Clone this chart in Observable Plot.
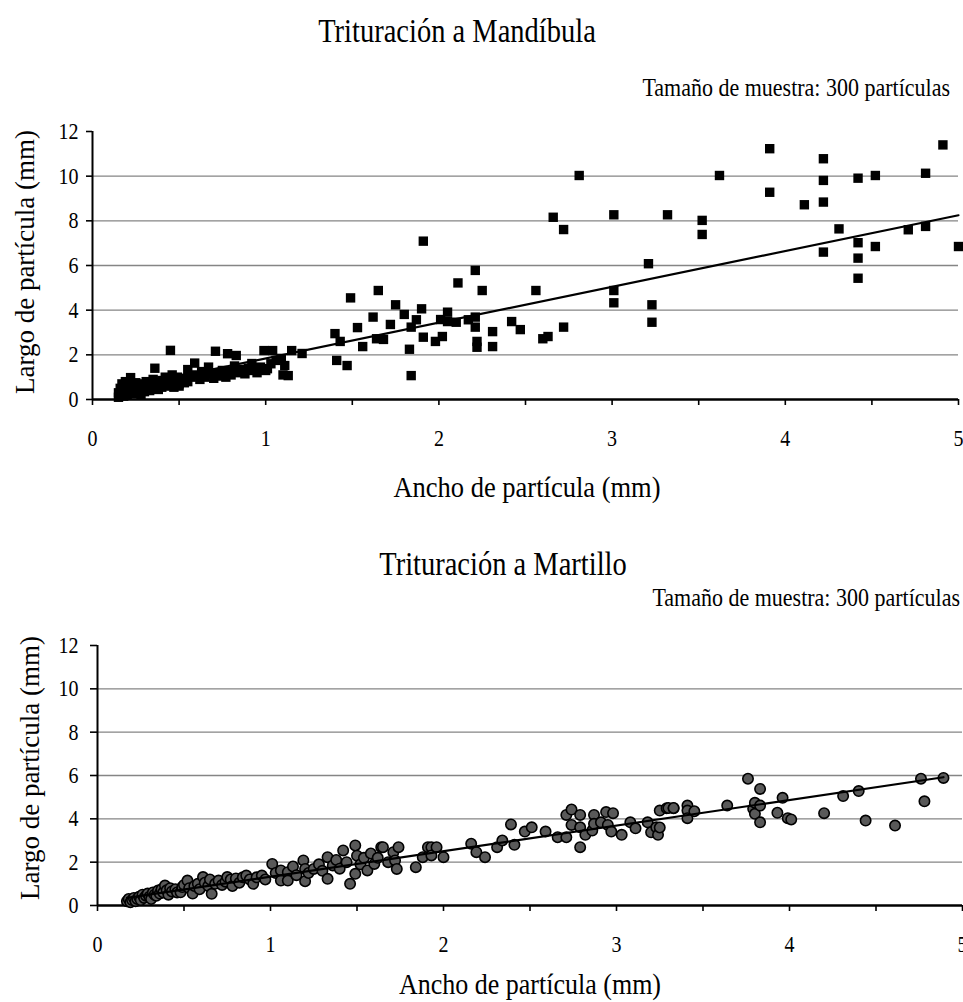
<!DOCTYPE html>
<html><head><meta charset="utf-8">
<script src="https://cdn.jsdelivr.net/npm/d3@7"></script>
<script src="https://cdn.jsdelivr.net/npm/@observablehq/plot@0.6"></script>
<style>
html,body{margin:0;padding:0;background:#fff;}
#page{position:relative;width:963px;height:1002px;overflow:hidden;font-family:"Liberation Serif","Times New Roman",serif;color:#000;}
#page svg text{font-family:"Liberation Serif","Times New Roman",serif !important;font-size:20px;}
.t{position:absolute;white-space:nowrap;line-height:1;transform-origin:center center;font-family:"Liberation Serif","Times New Roman",serif;}
.chart{position:absolute;left:0;}
</style></head><body><div id="page">
<div class="t" style="left:457px;top:18px;font-size:28.5px;transform:translateX(-50%) scaleY(1.15);">Trituración a Mandíbula</div>
<div class="t" style="right:13px;top:76.5px;font-size:22px;transform:scaleY(1.15);">Tamaño de muestra: 300 partículas</div>
<div class="t" style="left:527px;top:473.5px;font-size:26.5px;transform:translateX(-50%) scaleY(1.15);">Ancho de partícula (mm)</div>
<div class="t" style="left:25px;top:262px;font-size:27px;transform:translate(-50%,-50%) rotate(-90deg);">Largo de partícula (mm)</div>
<div class="t" style="left:503px;top:551px;font-size:28.5px;transform:translateX(-50%) scaleY(1.15);">Trituración a Martillo</div>
<div class="t" style="right:3px;top:586.5px;font-size:22px;transform:scaleY(1.15);">Tamaño de muestra: 300 partículas</div>
<div class="t" style="left:530px;top:972px;font-size:26px;transform:translateX(-50%) scaleY(1.12);">Ancho de partícula (mm)</div>
<div class="t" style="left:30px;top:768px;font-size:27px;transform:translate(-50%,-50%) rotate(-90deg);">Largo de partícula (mm)</div>
<div class="chart" id="c1" style="top:110px"></div>
<div class="chart" id="c2" style="top:620px"></div>
</div>
<script>
// ---- Data ----
const xTicks = [0, 0.5, 1, 1.5, 2, 2.5, 3, 3.5, 4, 4.5, 5];
const xTickLabels = ["0", "", "1", "", "2", "", "3", "", "4", "", "5"];
const yTicks = [0, 2, 4, 6, 8, 10, 12];
const gridValues = [2, 4, 6, 8, 10];

// Trituración a Mandíbula: ancho (x) / largo (y)
const mandWidth = [
  0.15,0.15,0.16,0.16,0.17,0.17,0.18,0.18,0.19,0.19,0.2,0.2,0.21,0.21,0.22,0.22,0.23,0.24,0.25,0.25,
  0.26,0.27,0.28,0.28,0.29,0.3,0.3,0.31,0.32,0.33,0.34,0.35,0.35,0.36,0.37,0.38,0.38,0.4,0.4,0.41,
  0.42,0.43,0.44,0.45,0.45,0.46,0.47,0.48,0.49,0.5,0.5,0.52,0.53,0.55,0.55,0.57,0.59,0.6,0.62,0.63,
  0.65,0.67,0.68,0.7,0.71,0.72,0.74,0.75,0.77,0.78,0.79,0.8,0.82,0.83,0.84,0.86,0.88,0.9,0.92,0.93,
  0.95,0.97,0.99,1.0,1.01,1.03,1.04,1.06,1.09,1.11,1.13,1.15,1.1,1.21,
  1.40,1.41,1.43,1.47,1.49,1.53,1.56,1.62,1.64,1.65,1.68,1.72,1.75,1.80,1.83,1.84,1.84,1.87,1.90,1.91,
  1.91,1.98,2.01,2.02,2.05,2.05,2.10,2.11,2.17,2.21,2.21,2.21,2.22,2.22,2.25,2.31,2.31,2.42,2.47,2.56,
  2.60,2.63,2.66,2.72,2.72,2.81,3.01,3.01,3.01,3.21,3.23,3.23,3.32,3.52,3.52,3.62,3.91,3.91,4.11,4.22,
  4.22,4.22,4.22,4.31,4.42,4.42,4.42,4.42,4.52,4.52,4.71,4.81,4.81,4.91,5.0
];
const mandLength = [
  0.1,0.3,0.5,0.2,0.7,0.4,0.15,0.6,0.3,0.8,0.5,0.2,0.35,0.65,0.98,0.45,0.25,0.55,0.4,0.75,
  0.3,0.6,0.45,0.2,0.7,0.5,0.35,0.8,0.55,0.4,0.65,0.9,0.5,1.4,0.6,0.75,0.45,0.85,0.55,0.7,
  1.0,0.6,0.9,2.2,0.75,1.1,0.55,0.85,1.0,0.7,0.6,0.95,0.75,1.34,0.8,1.0,1.63,1.1,0.9,1.25,
  1.0,1.45,1.15,0.95,2.16,1.2,1.05,1.3,1.0,2.05,1.25,1.1,1.5,1.97,1.2,1.35,1.15,1.4,1.61,1.3,
  1.2,1.45,2.19,1.3,1.38,1.6,2.19,1.75,1.84,1.52,1.07,2.19,1.1,2.06,
  2.95,1.75,2.6,1.52,4.55,3.22,2.37,3.69,2.72,4.88,2.69,3.36,4.24,3.81,2.25,3.24,1.07,3.57,4.06,7.09,
  2.79,2.6,3.58,2.82,3.91,3.49,3.46,5.22,3.57,5.78,3.69,3.24,2.6,2.34,4.88,3.04,2.37,3.49,3.13,4.88,
  2.72,2.82,8.16,7.61,3.24,10.03,8.27,4.88,4.33,6.08,4.24,3.46,8.27,8.02,7.39,10.03,11.23,9.28,8.72,10.78,
  9.81,8.84,6.6,7.64,9.91,7.02,6.33,5.43,10.03,6.85,7.6,7.75,10.13,11.4,6.85
];
const mandTrendX = [0.15, 5.0];
const mandTrendY = [0.48, 8.25];

// Trituración a Martillo
const martWidth = [
  0.17,0.18,0.19,0.2,0.21,0.22,0.23,0.24,0.25,0.26,0.27,0.28,0.29,0.3,0.31,0.32,0.33,0.34,0.35,0.36,
  0.37,0.38,0.39,0.4,0.41,0.42,0.43,0.45,0.46,0.48,0.49,0.5,0.52,0.53,0.55,0.56,0.58,0.59,0.61,0.62,
  0.64,0.65,0.66,0.68,0.7,0.72,0.74,0.75,0.77,0.78,0.8,0.82,0.84,0.86,0.88,0.9,0.92,0.95,0.97,1.01,
  1.03,1.06,1.06,1.1,1.1,1.13,1.15,1.19,1.2,1.2,1.22,1.25,1.28,1.3,1.33,1.33,1.36,1.38,1.4,1.42,
  1.44,1.46,1.49,1.49,1.5,1.52,1.54,1.56,1.58,1.6,1.62,1.64,
  1.65,1.68,1.71,1.72,1.73,1.74,1.84,1.88,1.91,1.93,1.93,1.96,2.0,2.16,2.19,2.24,2.31,2.34,2.39,2.41,
  2.47,2.51,2.59,2.66,2.71,2.71,2.74,2.74,2.79,2.79,2.79,2.82,2.86,2.87,2.87,2.91,2.94,2.95,2.97,2.98,
  3.03,3.08,3.11,3.18,3.2,3.23,3.24,3.25,3.25,3.29,3.3,3.33,3.33,
  3.41,3.41,3.41,3.45,3.64,3.76,3.79,3.8,3.8,3.83,3.83,3.83,3.93,3.96,3.99,4.01,4.2,4.31,4.4,4.44,
  4.61,4.76,4.78,4.89
];
const martLength = [
  0.2,0.3,0.15,0.25,0.35,0.2,0.3,0.4,0.25,0.5,0.35,0.45,0.55,0.4,0.3,0.6,0.5,0.45,0.69,0.55,
  0.75,0.6,0.92,0.7,0.5,0.8,0.65,0.75,0.6,0.61,0.85,0.95,1.15,0.8,0.55,0.9,1.0,0.75,1.31,1.05,
  0.9,1.2,0.54,1.0,1.15,0.95,1.1,1.31,1.2,0.9,1.25,1.05,1.3,1.38,1.2,1.0,1.3,1.38,1.2,1.92,
  1.5,1.62,1.15,1.54,1.15,1.8,1.4,2.08,1.69,1.12,1.5,1.69,1.9,1.6,2.23,1.23,1.85,2.1,1.7,2.54,
  2.0,1.0,2.77,1.46,2.3,1.9,2.2,1.62,2.4,1.92,2.2,2.69,
  2.69,2.0,2.46,2.08,1.69,2.69,1.77,2.23,2.69,2.69,2.31,2.69,2.23,2.85,2.46,2.23,2.69,3.0,3.74,2.8,
  3.41,3.61,3.41,3.15,3.15,4.18,4.43,3.72,4.18,3.61,2.69,3.26,3.46,4.18,3.77,3.84,4.31,3.72,3.41,4.26,
  3.26,3.84,3.56,3.84,3.38,3.61,3.26,4.38,3.6,4.49,4.5,4.49,4.5,
  4.61,4.38,4.03,4.35,4.61,5.85,4.46,4.74,4.23,5.38,4.61,3.84,4.28,4.97,4.03,3.97,4.26,5.05,5.28,3.92,
  3.69,5.85,4.81,5.89
];
const martTrendX = [0.17, 4.89];
const martTrendY = [0.35, 5.92];

// ---- Build ----
const mand = mandWidth.map((w, i) => ({w, l: mandLength[i]}));
const mart = martWidth.map((w, i) => ({w, l: martLength[i]}));
const mandTrend = mandTrendX.map((w, i) => ({w, l: mandTrendY[i]}));
const martTrend = martTrendX.map((w, i) => ({w, l: martTrendY[i]}));
const xLabel = new Map(xTicks.map((t, i) => [t, xTickLabels[i]]));
const FONT = '"Liberation Serif", "Times New Roman", serif';

function stretch(svg, k) {
  svg.querySelectorAll("text").forEach(t => {
    const b = t.getBBox();
    const cy = b.y + b.height / 2;
    const tr = t.getAttribute("transform") || "";
    t.setAttribute("transform", `${tr} translate(0,${cy}) scale(1,${k}) translate(0,${-cy})`);
  });
}

function chart({data, trend, height, mt, mb, ml, mr, ytSize, ytPad, square}) {
  return Plot.plot({
    width: 963, height,
    marginTop: mt, marginBottom: mb, marginLeft: ml, marginRight: mr,
    x: {domain: [0, 5]},
    y: {domain: [0, 12]},
    style: {fontFamily: FONT, fontSize: "20px", color: "#000", background: "transparent", overflow: "visible"},
    marks: [
      Plot.ruleY(gridValues, {stroke: "#858585", strokeWidth: 1.4}),
      Plot.axisY(yTicks, {tickSize: ytSize, tickPadding: ytPad, label: null, strokeWidth: 1.6, fontFamily: FONT, fontSize: 20}),
      Plot.axisX(xTicks, {tickSize: 6, tickPadding: 25, label: null, strokeWidth: 1.6, fontFamily: FONT, fontSize: 20, tickFormat: d => xLabel.get(d)}),
      Plot.ruleX([0], {y1: 0, y2: 12, stroke: "#000", strokeWidth: 2}),
      Plot.ruleY([0], {stroke: "#000", strokeWidth: 2.4}),
      square
        ? Plot.dot(data, {x: "w", y: "l", symbol: "square", r: 5.3, fill: "#000"})
        : Plot.dot(data, {x: "w", y: "l", r: 5.2, fill: "#595959", stroke: "#000", strokeWidth: 1.6}),
      Plot.line(trend, {x: "w", y: "l", stroke: "#000", strokeWidth: 2.2})
    ]
  });
}

const s1 = chart({data: mand, trend: mandTrend, height: 350, mt: 21, mb: 61, ml: 92, mr: 5, ytSize: 6, ytPad: 8, square: true});
document.getElementById("c1").appendChild(s1);
const s2 = chart({data: mart, trend: martTrend, height: 382, mt: 25, mb: 97, ml: 97, mr: 1, ytSize: 7, ytPad: 12, square: false});
document.getElementById("c2").appendChild(s2);
stretch(s1, 1.15);
stretch(s2, 1.15);
</script>
</body></html>
